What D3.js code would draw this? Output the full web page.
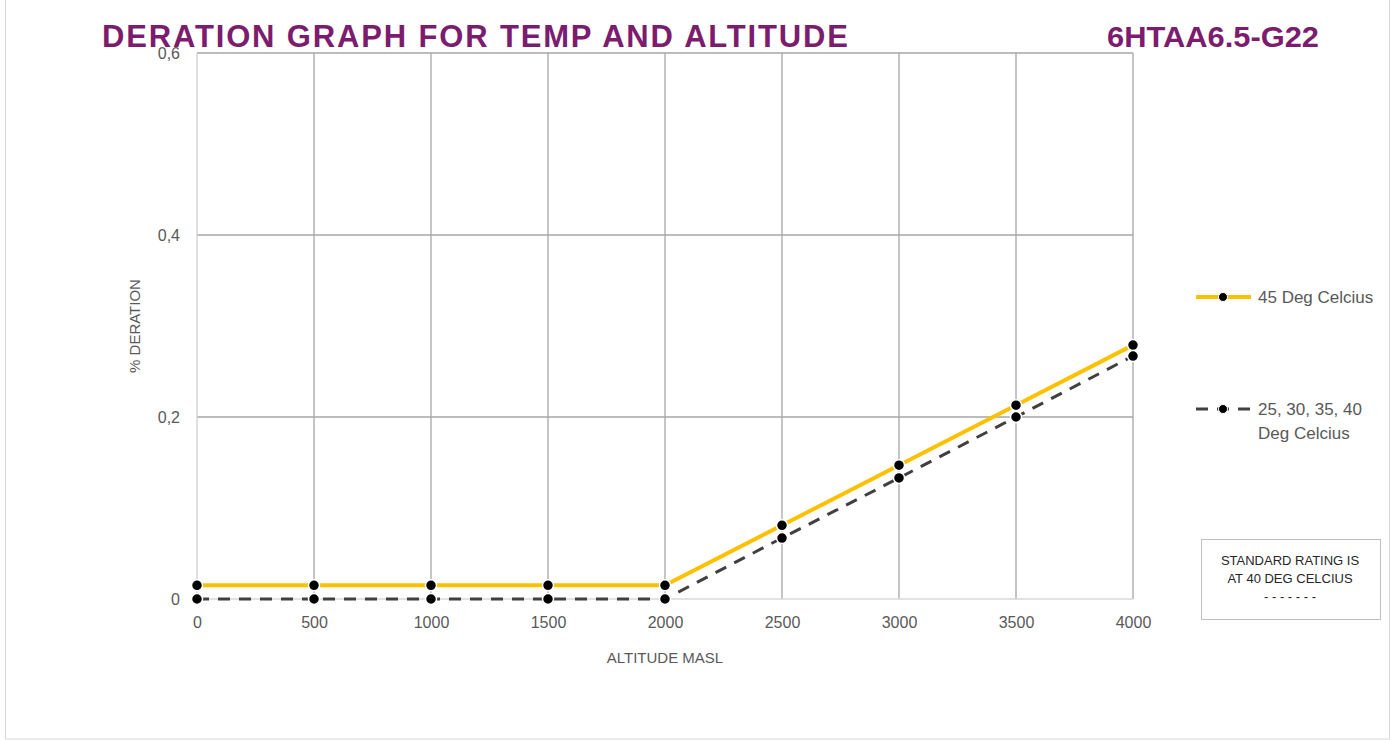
<!DOCTYPE html>
<html><head><meta charset="utf-8">
<script src="https://cdn.jsdelivr.net/npm/d3@7"></script>
<style>body{margin:0;background:#fff}svg{display:block}</style>
</head><body>
<svg id="c" width="1396" height="740"></svg>
<script>
const altitudes = [0, 500, 1000, 1500, 2000, 2500, 3000, 3500, 4000];
const deration45 = [0.015, 0.015, 0.015, 0.015, 0.015, 0.081, 0.147, 0.213, 0.279];
const deration25to40 = [0, 0, 0, 0, 0, 0.067, 0.133, 0.2, 0.267];
const yTicks = [0, 0.2, 0.4, 0.6];
const seriesNames = ["45 Deg Celcius", ["25, 30, 35, 40", "Deg Celcius"]];
const titleText = "DERATION GRAPH FOR TEMP AND ALTITUDE";
const modelText = "6HTAA6.5-G22";
const noteLines = ["STANDARD RATING IS", "AT 40 DEG CELCIUS", "- - - - - - -"];

const svg = d3.select("#c");
const font = "'Liberation Sans', Arial, sans-serif";
svg.append("rect").attr("x",5.5).attr("y",-1).attr("width",1384).attr("height",740).attr("fill","#fff").attr("stroke","#d9d9d9");

const x = d3.scaleLinear().domain([0,4000]).range([197,1133]);
const y = d3.scaleLinear().domain([0,0.6]).range([599,53]);

const g = svg.append("g");
g.selectAll("line.v").data(altitudes.slice(1)).join("line")
  .attr("x1",d=>x(d)).attr("x2",d=>x(d)).attr("y1",y(0)).attr("y2",y(0.6))
  .attr("stroke","#a6a6a6").attr("stroke-width",1.3);
g.selectAll("line.h").data(yTicks.slice(1)).join("line")
  .attr("x1",x(0)).attr("x2",x(4000)).attr("y1",d=>y(d)).attr("y2",d=>y(d))
  .attr("stroke","#a6a6a6").attr("stroke-width",1.3);
g.append("line").attr("x1",x(0)).attr("x2",x(0)).attr("y1",y(0)).attr("y2",y(0.6)).attr("stroke","#d0d0d0").attr("stroke-width",1.3);
g.append("line").attr("x1",x(0)).attr("x2",x(4000)).attr("y1",y(0)).attr("y2",y(0)).attr("stroke","#d9d9d9").attr("stroke-width",1.3);

const xAxis = d3.axisBottom(x).tickValues(altitudes).tickSize(0).tickPadding(18).tickFormat(d3.format("d"));
const xa = svg.append("g").attr("transform",`translate(0,${y(0)})`).call(xAxis);
xa.select(".domain").remove();
xa.selectAll("text").attr("font-family",font).attr("font-size",16).attr("fill","#595959");
const yAxis = d3.axisLeft(y).tickValues(yTicks).tickSize(0).tickPadding(17).tickFormat(d=>d===0?"0":String(d).replace(".",","));
const ya = svg.append("g").attr("transform",`translate(${x(0)},0)`).call(yAxis);
ya.select(".domain").remove();
ya.selectAll("text").attr("font-family",font).attr("font-size",16).attr("fill","#595959");

svg.append("text").attr("x",665).attr("y",663).attr("text-anchor","middle").attr("font-family",font).attr("font-size",15).attr("fill","#595959").text("ALTITUDE MASL");
svg.append("text").attr("transform","translate(140,326) rotate(-90)").attr("text-anchor","middle").attr("font-family",font).attr("font-size",15).attr("fill","#595959").text("% DERATION");

const line = d3.line().x(d=>x(d[0])).y(d=>y(d[1]));
const d45 = altitudes.map((a,i)=>[a,deration45[i]]);
const dOth = altitudes.map((a,i)=>[a,deration25to40[i]]);
svg.append("path").datum(d45).attr("d",line).attr("fill","none").attr("stroke","#FFC000").attr("stroke-width",4);
svg.append("path").datum(dOth).attr("d",line).attr("fill","none").attr("stroke","#404040").attr("stroke-width",3).attr("stroke-dasharray","12,9");
[d45,dOth].forEach(data=>{
  svg.append("g").selectAll("circle").data(data).join("circle")
    .attr("cx",d=>x(d[0])).attr("cy",d=>y(d[1])).attr("r",5.5)
    .attr("fill","#000").attr("stroke","#fff").attr("stroke-width",1.5);
});

const lg = svg.append("g");
lg.append("line").attr("x1",1196).attr("x2",1251).attr("y1",297).attr("y2",297).attr("stroke","#FFC000").attr("stroke-width",4);
lg.append("circle").attr("cx",1223).attr("cy",297).attr("r",4.5).attr("fill","#000").attr("stroke","#fff").attr("stroke-width",1);
lg.append("text").attr("x",1258).attr("y",303).attr("font-family",font).attr("font-size",17).attr("fill","#595959").text(seriesNames[0]);
lg.append("line").attr("x1",1196).attr("x2",1251).attr("y1",409).attr("y2",409).attr("stroke","#404040").attr("stroke-width",3).attr("stroke-dasharray","12,9");
lg.append("circle").attr("cx",1223).attr("cy",409).attr("r",4.5).attr("fill","#000").attr("stroke","#fff").attr("stroke-width",1);
const t2 = lg.append("text").attr("font-family",font).attr("font-size",17).attr("fill","#595959");
seriesNames[1].forEach((s,i)=>t2.append("tspan").attr("x",1258).attr("y",415+i*24).text(s));

svg.append("rect").attr("x",1201.5).attr("y",539.5).attr("width",179).attr("height",80).attr("fill","#fff").attr("stroke","#bfbfbf");
noteLines.forEach((s,i)=>svg.append("text").attr("x",1290).attr("y",565+i*18).attr("text-anchor","middle")
  .attr("font-family",font).attr("font-size",13).attr("fill","#262626").text(s));

svg.append("text").attr("x",102).attr("y",47).attr("font-family",font).attr("font-weight","bold").attr("font-size",31)
  .attr("fill","#7B1C6E").attr("textLength",746).attr("lengthAdjust","spacing").text(titleText);
svg.append("text").attr("x",1107).attr("y",47).attr("font-family",font).attr("font-weight","bold").attr("font-size",30)
  .attr("fill","#7B1C6E").attr("textLength",212).attr("lengthAdjust","spacingAndGlyphs").text(modelText);
</script>
</body></html>
